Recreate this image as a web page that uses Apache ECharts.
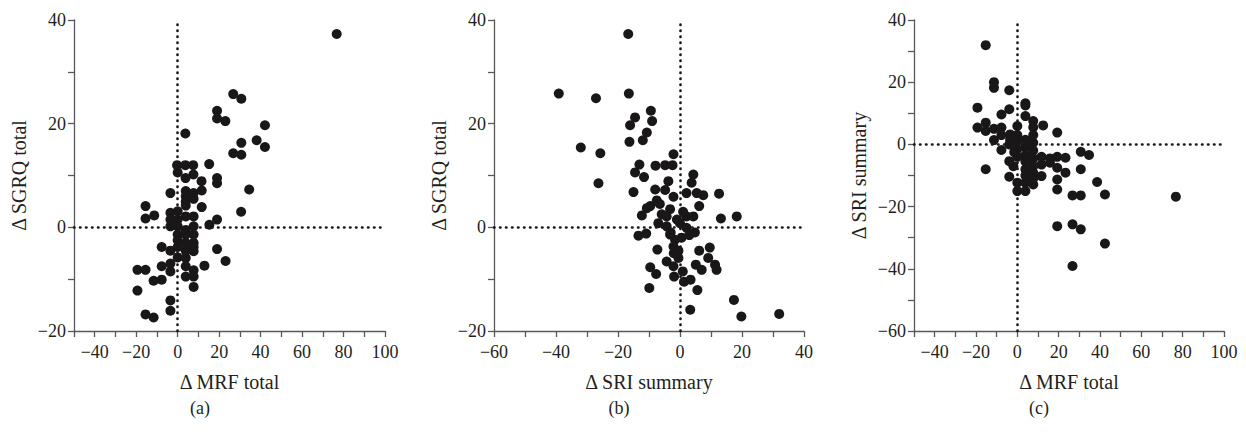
<!DOCTYPE html>
<html>
<head>
<meta charset="utf-8">
<script src="https://cdn.jsdelivr.net/npm/echarts@6/dist/echarts.min.js"></script>
<style>html,body{margin:0;padding:0;background:#fff}#c{width:1246px;height:436px}</style>
</head>
<body>
<div id="c"></div>
<script>
// Panel (a): Δ MRF total (x) vs Δ SGRQ total (y)
const panelA = [
[76.7,37.3],[26.8,25.7],[30.7,24.8],[19.0,22.5],[19.0,21.0],[23.0,20.5],[42.1,19.7],[3.7,18.1],[38.1,16.8],[30.7,16.3],[42.1,15.5],[26.8,14.3],[30.7,14.0],
[-0.3,12.0],[3.7,12.0],[7.5,12.0],[15.2,12.2],[0,10.6],[7.6,10.2],[3.8,9.5],[19,9.5],[19,8.5],[11.5,8.9],[34.5,7.3],[-3.5,6.6],[3.9,7.0],[3.9,6.0],[7.7,6.6],[11.6,7.1],[3.9,5.0],[7.7,5.5],[3.9,4.2],
[11.6,3.9],[-15.5,4.1],[30.6,3.0],[-11.3,2.3],[-15.5,1.7],[-3.5,2.8],[-3.5,1.5],[-3.5,0.2],[0,3.1],[0,1.5],[3.9,2.1],[7.7,2.1],[19,1.5],[15.3,0.5],[0,0.2],[7.7,0.2],[3.9,-0.5],
[0,-1.4],[3.9,-1.4],[7.7,-1.4],[3.9,-3.0],[7.7,-3.0],[0,-2.5],[7.7,-4.6],[-7.7,-3.8],[-3.5,-4.5],[0,-5.8],[3.9,-5.9],[19,-4.2],[23.1,-6.5],[12.9,-7.4],[-7.7,-7.5],[-3.5,-7.0],[-3.5,-8.5],
[-19.4,-8.2],[-15.5,-8.2],[3.9,-7.5],[3.9,-9.5],[7.7,-8.3],[7.7,-9.5],[-11.6,-10.3],[-7.7,-10.1],[7.7,-11.5],[-19.4,-12.2],[-3.5,-14.1],[-3.5,-16.1],[-15.5,-16.8],[-11.6,-17.4],[7.7,-3.8],[3.9,-4.5],[0,-3.8]
];
// Panel (b): Δ SRI summary (x) vs Δ SGRQ total (y)
const panelB = [
[-39.1,25.8],[-27.1,24.9],[-16.5,25.8],[-16.7,37.3],[-9.4,22.5],[-14.5,21.2],[-16.1,19.7],[-9.0,20.5],[-10.7,18.3],[-12.0,16.8],[-16.3,16.5],[-32.0,15.4],[-25.7,14.3],[-2.1,14.1],
[-13.1,12.1],[-7.9,11.9],[-4.8,12.0],[-2.4,12.0],[-14.5,10.6],[-11.6,9.7],[-26.3,8.5],[4.3,10.2],[3.75,8.6],[-3.75,8.9],[-8.0,7.3],[-4.8,7.2],[-15.0,6.8],[-2.1,5.9],[2.1,6.6],[5.4,6.6],[7.5,6.2],[12.6,6.5],
[-7.5,5.2],[-9.6,4.1],[-10.7,3.7],[-3.2,3.5],[6.2,4.1],[-12.3,2.3],[-5.9,2.5],[-4.3,2.1],[2.1,2.1],[4.3,2.1],[13.2,1.7],[18.3,2.1],[-7.0,0.8],[-4.3,0.2],[0,0.8],[2.1,-0.1],[4.8,-1.0],
[-13.4,-1.6],[-10.9,-1.2],[-3.2,-1.4],[-1.6,-2.4],[-2.1,-3.7],[-0.5,-4.5],[-7.3,-4.3],[-4.3,-6.6],[-0.5,-5.9],[6.2,-4.5],[9.6,-3.9],[5.1,-7.2],[7.0,-8.2],[9.1,-5.9],[11.3,-7.2],[11.8,-8.2],
[-9.6,-7.7],[-7.7,-9.0],[-2.1,-7.5],[-1.9,-9.5],[0.9,-8.5],[1.3,-10.5],[3.4,-10.1],[-9.9,-11.7],[5.6,-12.1],[17.4,-14.0],[3.3,-15.9],[19.8,-17.2],[32.0,-16.7],
[-1.0,1.5],[1.0,3.0],[-6.5,4.5],[-3.0,-1.0],[0.5,-2.0],[3.0,-1.5],[-2.0,-5.0]
];
// Panel (c): Δ MRF total (x) vs Δ SRI summary (y)
const panelC = [
[-15.3,31.9],[-11.3,20.0],[-11.3,18.2],[-3.9,17.4],[-19.3,11.8],[-3.9,11.3],[3.9,13.2],[3.9,12.5],[3.9,9.1],[-7.7,9.6],[-19.3,5.4],[-15.3,7.0],[-15.3,4.3],[-11.3,5.0],[-7.7,5.4],[-11.3,1.4],
[0,5.9],[7.7,7.5],[7.7,5.5],[12.5,6.1],[19.3,3.8],[-3.5,3.2],[-3.5,1.6],[-7.7,-1.8],[-15.3,-8.0],[-3.9,-5.4],[-3.9,-10.4],[0,-12.3],[0,-15.0],[3.9,-15.0],[3.9,-12.3],[7.7,-12.9],[7.7,-7.0],[7.7,-9.1],
[11.7,-4.0],[11.7,-10.2],[15.8,-5.9],[19.3,-4.0],[19.3,-7.5],[19.3,-11.3],[19.3,-14.5],[23.3,-4.3],[23.3,-9.1],[30.7,-2.4],[34.7,-3.4],[30.7,-8.0],[38.6,-12.1],[26.7,-16.4],[30.7,-16.4],[42.4,-16.1],
[19.3,-26.3],[26.7,-25.7],[30.7,-27.3],[42.4,-31.9],[26.7,-39.1],[76.7,-16.8],
[0,1.0],[0,-1.5],[3.9,-1.0],[3.9,-3.5],[3.9,-5.5],[3.9,-8.0],[7.7,-2.0],[7.7,0.5],[7.7,3.0],[7.7,-4.5],[3.9,1.5],[0,-4.0],[-1.5,-2.5],[3.9,-10.0],[7.7,-11.0],[11.7,-6.5],[15.8,-4.5],[0,3.0],[-3.9,0.0],[-7.7,3.0],[-1.9,-7.0]
];
const xNames = ['\u0394 MRF total','\u0394 SRI summary','\u0394 MRF total'];
const yNames = ['\u0394 SGRQ total','\u0394 SGRQ total','\u0394 SRI summary'];
const xRanges = [[-50,100],[-60,40],[-50,100]];
const yRanges = [[-20,40],[-20,40],[-60,40]];
const captions = ['(a)','(b)','(c)'];

const FONT = 'Liberation Serif';
const TXT = '#231f20';
const AX = '#58595b';
const fmt = v => (v % 20 === 0 ? String(v).replace('-', '\u2212') : '');

const grids = [
  {left:74, top:20, width:311, height:311},
  {left:494, top:20, width:310, height:311},
  {left:914, top:20, width:310, height:311}
];
const capX = [200, 619, 1039];

function axisCommon(){
  return {
    axisLine:{onZero:false, lineStyle:{color:AX, width:1.3}},
    axisTick:{show:true, length:6, lineStyle:{color:AX, width:1.3}},
    splitLine:{show:false},
    interval:10,
    nameLocation:'middle',
    nameTextStyle:{fontFamily:FONT, fontSize:20, color:TXT},
    axisLabel:{fontFamily:FONT, fontSize:18, color:TXT, formatter:fmt, showMinLabel:true, showMaxLabel:true}
  };
}
const xAxis = [0,1,2].map(i => Object.assign(axisCommon(), {
  type:'value', gridIndex:i, min:xRanges[i][0], max:xRanges[i][1], name:xNames[i], nameGap:41,
}));
xAxis.forEach(a => { a.axisLabel.margin = 12; });
const yAxis = [0,1,2].map(i => Object.assign(axisCommon(), {
  type:'value', gridIndex:i, min:yRanges[i][0], max:yRanges[i][1], name:yNames[i], nameGap:45,
}));
yAxis.forEach(a => { a.axisLabel.margin = 8; });

const datasets = [panelA, panelB, panelC];
const series = datasets.map((d,i) => ({
  type:'scatter', xAxisIndex:i, yAxisIndex:i, data:d, symbol:'circle', symbolSize:10,
  itemStyle:{color:'#1a1718', opacity:1},
  z:3,
  markLine:{
    silent:true, symbol:'none', animation:false, label:{show:false},
    lineStyle:{color:'#1a1718', width:2.6, type:[0.5,5.5], cap:'round', opacity:1},
    data:[{xAxis:0},{yAxis:0}]
  }
}));

const chart = echarts.init(document.getElementById('c'), null, {renderer:'svg'});
chart.setOption({
  animation:false,
  backgroundColor:'#fff',
  grid:grids,
  xAxis, yAxis, series,
  graphic: captions.map((t,i) => ({
    type:'text', x:capX[i], y:408,
    style:{text:t, fontFamily:FONT, fontSize:18, fill:TXT, align:'center', verticalAlign:'middle'}
  }))
});
</script>
</body>
</html>
